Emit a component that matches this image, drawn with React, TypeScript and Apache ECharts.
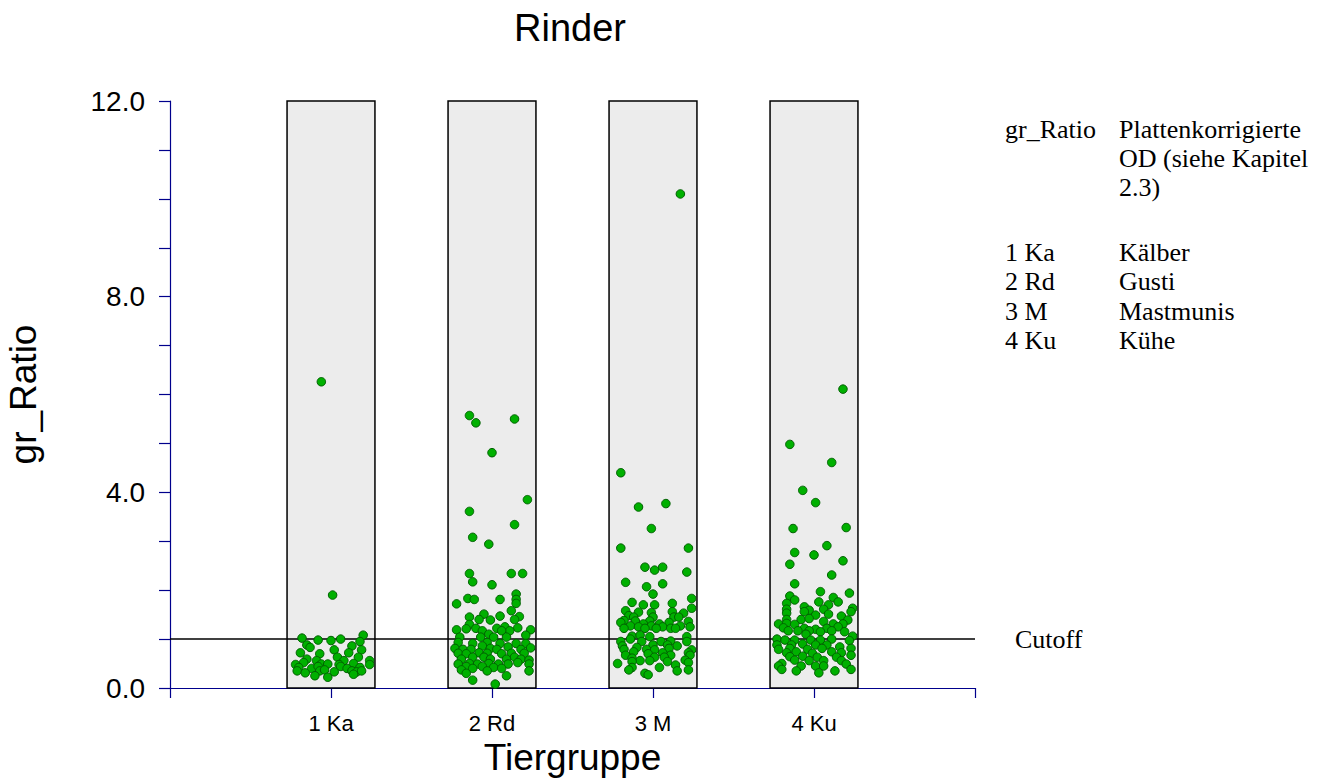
import React, { useEffect, useRef } from 'react';
import * as echarts from 'echarts';

// ---------- data ----------
const categories = ['1 Ka', '2 Rd', '3 M', '4 Ku'];
const yMin = 0;
const yMax = 12;
const yLabelStep = 4;
const cutoffValue = 1.0;
const cutoffLabel = 'Cutoff';
const chartTitle = 'Rinder';
const xName = 'Tiergruppe';
const yName = 'gr_Ratio';

// [jitter (category units), gr_Ratio]
const kaPoints = [
  [-0.06, 6.26], [0.01, 1.9], [-0.18, 1.02], [-0.08, 0.98], [0.0, 0.97], [0.06, 1.0], [0.2, 1.08], [0.18, 0.95],
  [-0.15, 0.88], [-0.13, 0.83], [-0.19, 0.72], [0.02, 0.78], [0.13, 0.86], [0.19, 0.78], [0.11, 0.72], [-0.07, 0.7],
  [0.04, 0.63], [-0.15, 0.59], [0.08, 0.56], [0.17, 0.63], [0.24, 0.56], [-0.09, 0.56], [-0.17, 0.52], [-0.22, 0.48],
  [-0.06, 0.49], [-0.02, 0.49], [0.05, 0.48], [0.14, 0.5], [0.24, 0.48], [-0.2, 0.42], [-0.12, 0.4], [-0.08, 0.44],
  [0.06, 0.44], [0.1, 0.4], [0.18, 0.42], [-0.21, 0.35], [-0.16, 0.31], [-0.07, 0.35], [-0.04, 0.37], [0.02, 0.33],
  [0.13, 0.35], [0.16, 0.33], [-0.1, 0.25], [-0.02, 0.22], [0.14, 0.28], [0.19, 0.35],
];

const rdPoints = [
  [-0.14, 5.57], [-0.1, 5.42], [0.14, 5.5], [0.0, 4.81], [0.22, 3.85], [-0.14, 3.61], [0.14, 3.34], [-0.12, 3.08],
  [-0.02, 2.94], [-0.14, 2.34], [0.12, 2.34], [0.19, 2.34], [-0.12, 2.17], [0.0, 2.11], [0.15, 1.92], [-0.15, 1.83],
  [-0.11, 1.81], [0.15, 1.81], [0.05, 1.81], [0.15, 1.73], [-0.22, 1.72], [0.12, 1.58], [-0.05, 1.51], [-0.14, 1.45],
  [0.05, 1.47], [-0.08, 1.4], [-0.01, 1.39], [0.17, 1.46], [0.14, 1.4], [-0.14, 1.3], [0.08, 1.25], [0.16, 1.23],
  [-0.1, 1.22], [0.03, 1.22], [-0.16, 1.21], [-0.22, 1.19], [0.24, 1.19], [-0.06, 1.17], [0.11, 1.17], [0.06, 1.17],
  [-0.02, 1.1], [0.21, 1.08], [-0.2, 1.04], [-0.07, 1.04], [0.01, 1.04], [0.09, 1.04], [-0.21, 0.93], [-0.12, 0.91],
  [-0.03, 0.93], [0.05, 0.91], [0.15, 0.91], [0.21, 0.91], [-0.06, 0.86], [0.1, 0.84], [-0.23, 0.81], [-0.18, 0.79],
  [-0.13, 0.79], [-0.01, 0.81], [0.03, 0.79], [0.18, 0.79], [0.24, 0.82], [-0.21, 0.71], [-0.16, 0.7], [-0.08, 0.72],
  [-0.03, 0.71], [0.06, 0.7], [0.12, 0.71], [0.2, 0.71], [-0.12, 0.63], [-0.05, 0.63], [0.14, 0.63], [-0.19, 0.59],
  [-0.01, 0.59], [0.09, 0.59], [0.18, 0.59], [0.23, 0.57], [-0.21, 0.49], [-0.14, 0.5], [-0.09, 0.49], [-0.02, 0.5],
  [0.04, 0.49], [0.1, 0.49], [0.16, 0.52], [-0.16, 0.44], [-0.12, 0.4], [-0.06, 0.44], [0.01, 0.42], [0.06, 0.4],
  [0.23, 0.49], [0.23, 0.35], [-0.19, 0.37], [-0.03, 0.35], [-0.16, 0.3], [0.09, 0.25], [-0.12, 0.16], [0.02, 0.08],
];

const mPoints = [
  [0.17, 10.1], [-0.2, 4.4], [-0.09, 3.7], [0.08, 3.77], [-0.01, 3.26], [-0.2, 2.86], [0.22, 2.86], [-0.05, 2.47],
  [0.01, 2.41], [0.06, 2.47], [0.21, 2.37], [-0.17, 2.16], [-0.04, 2.07], [0.06, 2.13], [0.0, 1.92], [0.24, 1.83],
  [-0.13, 1.75], [-0.06, 1.7], [0.01, 1.7], [0.12, 1.73], [0.24, 1.63], [-0.17, 1.58], [-0.09, 1.55], [-0.01, 1.54],
  [0.12, 1.56], [0.19, 1.53], [-0.15, 1.48], [-0.12, 1.45], [0.0, 1.45], [0.13, 1.45], [0.16, 1.45], [-0.18, 1.38],
  [-0.11, 1.37], [-0.02, 1.37], [0.1, 1.34], [0.22, 1.36], [-0.2, 1.34], [-0.06, 1.31], [0.04, 1.31], [-0.14, 1.27],
  [-0.09, 1.25], [-0.01, 1.27], [0.06, 1.25], [0.17, 1.27], [0.23, 1.25], [-0.18, 1.22], [-0.05, 1.22], [0.02, 1.22],
  [0.11, 1.22], [0.14, 1.22], [-0.13, 1.06], [-0.02, 1.05], [0.21, 1.05], [-0.08, 1.08], [-0.2, 0.95], [-0.14, 1.0],
  [-0.07, 0.95], [0.05, 0.95], [0.11, 0.96], [0.21, 0.95], [-0.19, 0.86], [0.0, 0.88], [0.09, 0.88], [0.15, 0.86],
  [-0.1, 0.83], [-0.18, 0.79], [-0.04, 0.79], [0.01, 0.78], [0.1, 0.81], [0.24, 0.78], [-0.12, 0.74], [0.06, 0.72],
  [0.22, 0.72], [-0.17, 0.67], [-0.03, 0.7], [0.11, 0.67], [-0.13, 0.61], [0.01, 0.63], [0.07, 0.63], [0.23, 0.67],
  [-0.08, 0.56], [-0.02, 0.56], [0.2, 0.57], [-0.22, 0.5], [-0.13, 0.54], [0.09, 0.54], [0.14, 0.47], [0.22, 0.52],
  [-0.13, 0.42], [0.04, 0.42], [0.15, 0.35], [0.22, 0.37], [-0.05, 0.3], [-0.03, 0.27], [-0.15, 0.37],
];

const kuPoints = [
  [0.18, 6.11], [-0.15, 4.98], [0.11, 4.61], [-0.07, 4.04], [0.01, 3.79], [-0.13, 3.26], [0.2, 3.28], [0.08, 2.91],
  [-0.12, 2.77], [0.0, 2.72], [0.18, 2.6], [-0.15, 2.53], [0.11, 2.31], [-0.12, 2.13], [0.04, 1.97], [0.22, 1.94],
  [-0.15, 1.88], [-0.12, 1.8], [0.12, 1.85], [0.15, 1.76], [0.03, 1.76], [-0.17, 1.73], [0.09, 1.7], [-0.06, 1.66],
  [0.24, 1.63], [-0.17, 1.61], [-0.03, 1.59], [0.06, 1.61], [-0.06, 1.56], [0.23, 1.56], [-0.17, 1.53], [0.01, 1.49],
  [0.09, 1.51], [0.17, 1.47], [-0.08, 1.4], [-0.17, 1.4], [-0.03, 1.42], [0.06, 1.36], [0.21, 1.39], [-0.22, 1.31],
  [-0.17, 1.32], [-0.12, 1.3], [0.12, 1.31], [0.18, 1.31], [-0.19, 1.23], [-0.06, 1.22], [0.01, 1.2], [0.08, 1.22],
  [0.15, 1.25], [-0.16, 1.17], [-0.1, 1.17], [-0.03, 1.17], [0.04, 1.15], [0.11, 1.17], [0.19, 1.15], [-0.05, 1.1],
  [0.24, 1.06], [-0.23, 1.0], [-0.18, 0.98], [-0.12, 0.98], [-0.02, 0.98], [0.04, 0.98], [0.11, 1.0], [0.22, 0.97],
  [-0.23, 0.88], [-0.14, 0.88], [-0.07, 0.9], [0.01, 0.88], [0.08, 0.88], [0.16, 0.84], [-0.22, 0.79], [-0.15, 0.81],
  [-0.04, 0.79], [0.05, 0.81], [0.23, 0.81], [-0.17, 0.72], [-0.11, 0.74], [-0.01, 0.71], [0.11, 0.74], [0.17, 0.72],
  [-0.15, 0.64], [-0.07, 0.65], [0.02, 0.63], [0.14, 0.63], [0.23, 0.67], [-0.12, 0.57], [-0.03, 0.56], [0.06, 0.56],
  [0.17, 0.56], [-0.2, 0.5], [-0.08, 0.45], [0.01, 0.45], [0.2, 0.49], [-0.22, 0.45], [-0.2, 0.38], [-0.11, 0.35],
  [0.06, 0.45], [0.13, 0.35], [0.23, 0.38], [0.03, 0.31],
];

const groupPoints = [kaPoints, rdPoints, mPoints, kuPoints];

const legendKeys = ['gr_Ratio', '', '', '1 Ka', '2 Rd', '3 M', '4 Ku'];
const legendTexts = ['Plattenkorrigierte', 'OD (siehe Kapitel', '2.3)', 'Kälber', 'Gusti', 'Mastmunis', 'Kühe'];

// ---------- layout / style ----------
const SANS = '"Liberation Sans", Arial, Helvetica, sans-serif';
const SERIF = '"Liberation Serif", "Times New Roman", Times, serif';
const AXIS_COLOR = '#00008c';
const BOX_HALF = 0.273;
const legendY = [131, 160, 189, 254, 283, 313, 342];

export default function App() {
  const ref = useRef<HTMLDivElement>(null);

  useEffect(() => {
    if (!ref.current) return;
    const chart = echarts.init(ref.current, null, { renderer: 'svg' });

    const scatterData: number[][] = [];
    groupPoints.forEach((pts, gi) => {
      pts.forEach(([j, v]) => scatterData.push([gi + 1 + j, v]));
    });

    const graphic: any[] = [];
    legendKeys.forEach((k, i) => {
      if (k) {
        graphic.push({
          type: 'text', left: 1005, top: legendY[i] - 15,
          style: { text: k, font: `26px ${SERIF}`, fill: '#000' },
        });
      }
      graphic.push({
        type: 'text', left: 1119, top: legendY[i] - 15,
        style: { text: legendTexts[i], font: `26px ${SERIF}`, fill: '#000' },
      });
    });

    chart.setOption({
      animation: false,
      backgroundColor: '#ffffff',
      title: {
        text: chartTitle,
        left: 514,
        top: 9,
        padding: 0,
        textStyle: { fontFamily: SANS, fontSize: 38, fontWeight: 'normal', color: '#000' },
      },
      grid: {
        left: 170, top: 101, width: 805, height: 587,
        containLabel: false,
        outerBoundsMode: 'none',
      },
      xAxis: {
        type: 'value',
        min: 0,
        max: categories.length + 1,
        interval: 1,
        name: xName,
        nameLocation: 'middle',
        nameGap: 46,
        nameTextStyle: { fontFamily: SANS, fontSize: 37, color: '#000' },
        axisLine: { show: true, lineStyle: { color: AXIS_COLOR, width: 1.2 } },
        axisTick: { show: true, length: 10, lineStyle: { color: AXIS_COLOR, width: 1.2 } },
        splitLine: { show: false },
        axisLabel: {
          margin: 24,
          fontFamily: SANS,
          fontSize: 22,
          color: '#000',
          formatter: (v: number) => categories[Math.round(v) - 1] ?? '',
        },
      },
      yAxis: {
        type: 'value',
        min: yMin,
        max: yMax,
        interval: 1,
        name: yName,
        nameLocation: 'middle',
        nameGap: 128,
        nameRotate: 90,
        nameTextStyle: { fontFamily: SANS, fontSize: 37, color: '#000' },
        axisLine: { show: true, lineStyle: { color: AXIS_COLOR, width: 1.2 } },
        axisTick: { show: true, length: 11, lineStyle: { color: AXIS_COLOR, width: 1.2 } },
        splitLine: { show: false },
        axisLabel: {
          margin: 25,
          fontFamily: SANS,
          fontSize: 28,
          color: '#000',
          formatter: (v: number) => (Math.round(v) % yLabelStep === 0 ? v.toFixed(1) : ''),
        },
      },
      series: [
        {
          type: 'custom',
          z: 1,
          data: categories.map((_, i) => [i + 1]),
          encode: { x: 0 },
          renderItem: (params: any, api: any) => {
            const c = api.value(0);
            const tl = api.coord([c - BOX_HALF, yMax]);
            const br = api.coord([c + BOX_HALF, yMin]);
            return {
              type: 'rect',
              shape: { x: tl[0], y: tl[1], width: br[0] - tl[0], height: br[1] - tl[1] },
              style: { fill: '#ececec', stroke: '#000', lineWidth: 1.5 },
            };
          },
          markLine: {
            silent: true,
            symbol: 'none',
            z: 2,
            lineStyle: { color: '#000', width: 1.6, type: 'solid' },
            label: {
              show: true,
              position: 'end',
              distance: 40,
              formatter: cutoffLabel,
              fontFamily: SERIF,
              fontSize: 26,
              color: '#000',
            },
            data: [{ yAxis: cutoffValue }],
          },
        },
        {
          type: 'scatter',
          z: 5,
          symbol: 'circle',
          symbolSize: 8.5,
          data: scatterData,
          itemStyle: { color: '#00b000', borderColor: '#006000', borderWidth: 1, opacity: 1 },
        },
      ],
      graphic,
    });

    return () => chart.dispose();
  }, []);

  return (
    <div
      ref={ref}
      style={{ position: 'fixed', left: 0, top: 0, width: 1331, height: 778, background: '#fff' }}
    />
  );
}
